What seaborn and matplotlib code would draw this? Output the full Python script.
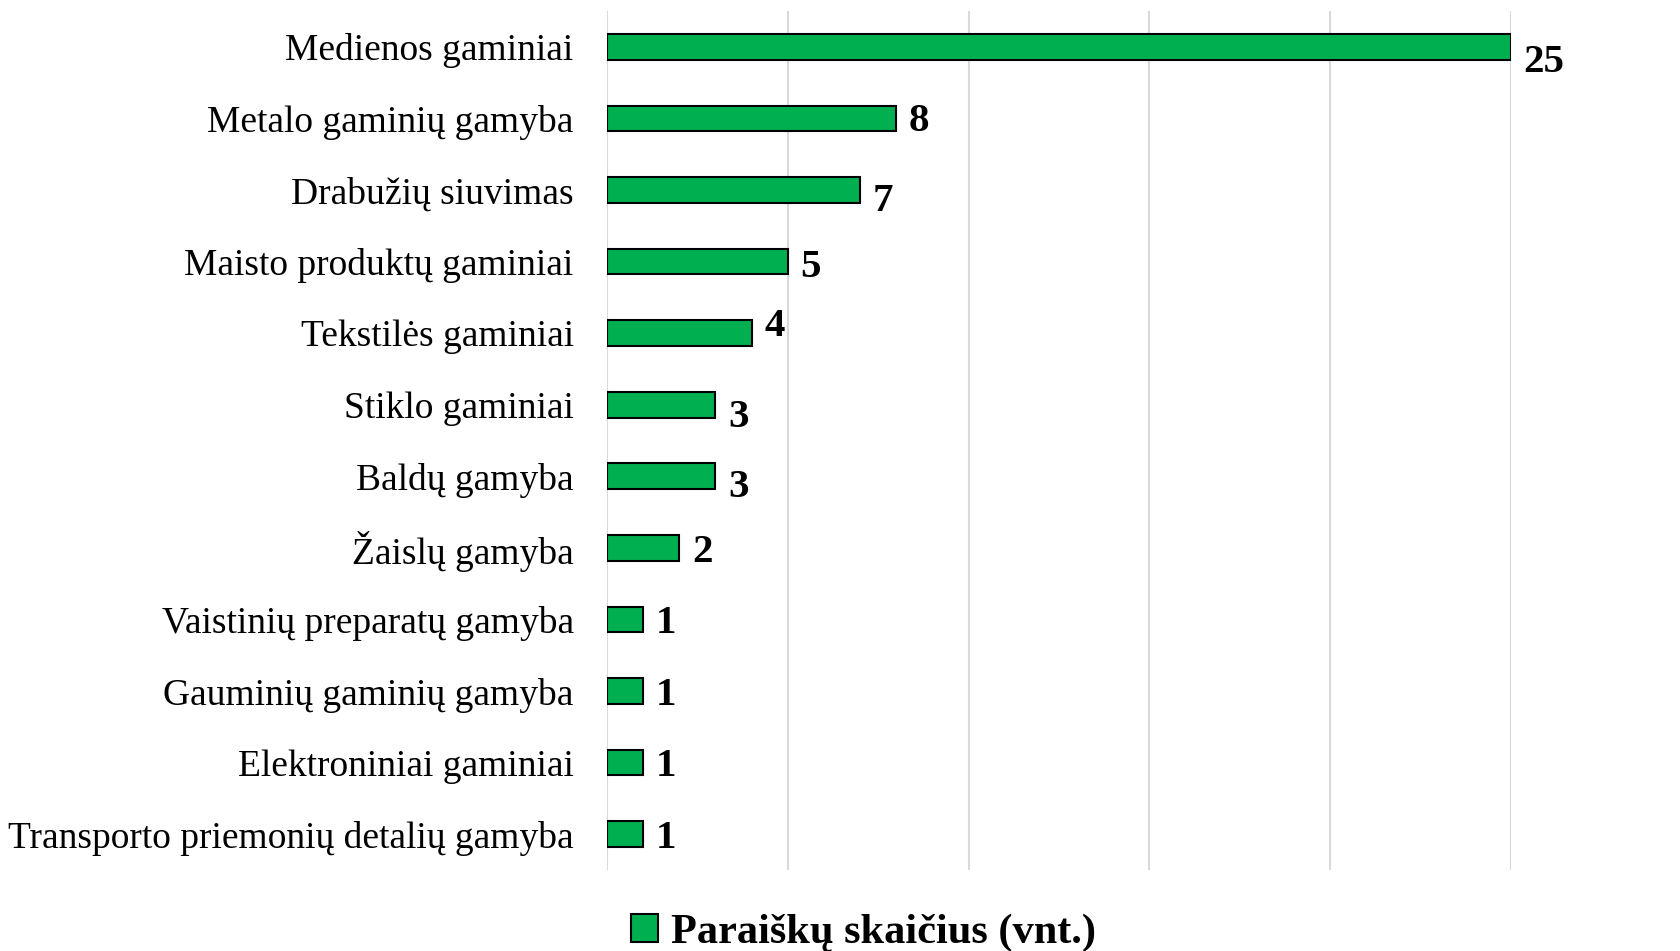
import matplotlib
matplotlib.use("Agg")
import matplotlib.pyplot as plt
from matplotlib.patches import Patch
import seaborn as sns
import pandas as pd

categories = ["Medienos gaminiai", "Metalo gaminių gamyba", "Drabužių siuvimas",
              "Maisto produktų gaminiai", "Tekstilės gaminiai", "Stiklo gaminiai",
              "Baldų gamyba", "Žaislų gamyba", "Vaistinių preparatų gamyba",
              "Gauminių gaminių gamyba", "Elektroniniai gaminiai",
              "Transporto priemonių detalių gamyba"]
counts = [25, 8, 7, 5, 4, 3, 3, 2, 1, 1, 1, 1]
series_name = "Paraiškų skaičius (vnt.)"

# hand-placed label nudges (points, + = up), as in the original
label_dy = [-11, -2, -8, -4, 5, -9, -8, -3, -3, -3, -3, -3]

df = pd.DataFrame({"category": categories, "count": counts})

sns.set_theme(style="white")
plt.rcParams["font.family"] = ["Liberation Serif", "DejaVu Serif"]
plt.rcParams["text.color"] = "black"
plt.rcParams["ytick.color"] = "black"

green = "#00B050"
fig = plt.figure(figsize=(16.8, 9.51), dpi=100)
ax = fig.add_axes([0.3613, 0.0852, 0.8994 - 0.3613, 0.9884 - 0.0852])

sns.barplot(data=df, x="count", y="category", orient="h", color=green,
            saturation=1, width=0.36, edgecolor="black", linewidth=1.5, ax=ax)

ax.set_xlim(0, 25)
ax.set_ylim(11.5, -0.5)
ax.set_xticks([0, 5, 10, 15, 20, 25])
ax.set_xticklabels([])
ax.grid(axis="x", color="#D9D9D9", linewidth=1.5)
ax.set_axisbelow(True)
for s in ax.spines.values():
    s.set_visible(False)
ax.set_xlabel("")
ax.set_ylabel("")
ax.tick_params(axis="y", length=0, pad=24, labelsize=27, labelcolor="black")
ax.tick_params(axis="x", length=0)

for i, (v, dy) in enumerate(zip(counts, label_dy)):
    ax.annotate(str(v), (v, i), xytext=(9, dy), textcoords="offset points",
                ha="left", va="center", fontsize=29.5, fontweight="bold",
                color="black", annotation_clip=False)

handle = Patch(facecolor=green, edgecolor="black", linewidth=1.5)
fig.legend([handle], [series_name], loc="center", bbox_to_anchor=(0.514, 0.019),
           frameon=False, prop={"size": 30.5, "weight": "bold"},
           handlelength=0.65, handleheight=0.65, handletextpad=0.3)

fig.savefig("out.png", dpi=100)
